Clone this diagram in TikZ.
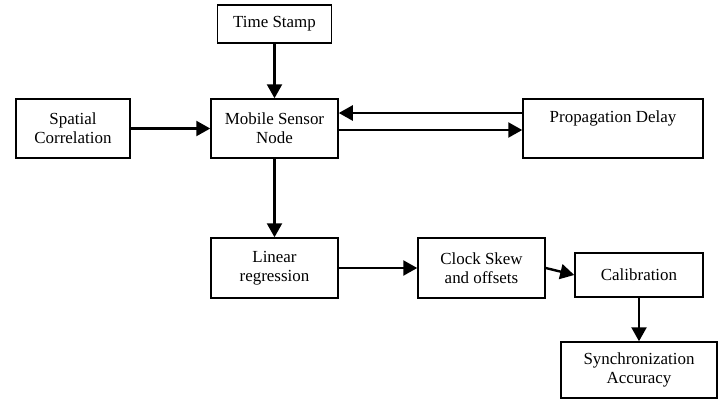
\documentclass[tikz,border=0pt]{standalone}
\usepackage{fontspec}
\setmainfont{Liberation Serif}
\usetikzlibrary{arrows.meta}
\begin{document}
\begin{tikzpicture}[x=1bp,y=-1bp,
  box/.style={draw,line width=1.5bp,align=center,inner sep=0pt,font=\fontsize{17}{19}\selectfont},
  arr/.style={line width=2.4bp,-{Triangle[length=14bp,width=15bp]}}]
\useasboundingbox (0,0) rectangle (720,400);
\node[box,minimum width=114bp,minimum height=38bp] (ts) at (274.5,24) {Time Stamp};
\node[box,minimum width=114bp,minimum height=59bp] (sc) at (73,128.5) {Spatial\\Correlation};
\node[box,minimum width=127bp,minimum height=59bp] (msn) at (274.5,128.5) {Mobile Sensor\\Node};
\node[box,minimum width=180bp,minimum height=59bp] (pd) at (613,128.5) {Propagation Delay\\\strut};
\node[box,minimum width=127bp,minimum height=60bp] (lr) at (274.5,268) {Linear\\regression};
\node[box,minimum width=127bp,minimum height=60bp] (cs) at (481.5,268) {Clock Skew\\and offsets};
\node[box,minimum width=128bp,minimum height=44bp] (cal) at (639,275) {Calibration};
\node[box,minimum width=156bp,minimum height=56bp] (sa) at (639,370) {Synchronization\\Accuracy};
\draw[arr] (ts.south) -- (msn.north);
\draw[arr] (sc.east) -- (msn.west);
\draw[arr] ([yshift=15.5bp]pd.west) -- ([yshift=15.5bp]msn.east);
\draw[arr] ([yshift=-1.5bp]msn.east) -- ([yshift=-1.5bp]pd.west);
\draw[arr] (msn.south) -- (lr.north);
\draw[arr] (lr.east) -- (cs.west);
\draw[arr] (cs.east) -- (cal.west);
\draw[arr] (cal.south) -- (sa.north);
\end{tikzpicture}
\end{document}
